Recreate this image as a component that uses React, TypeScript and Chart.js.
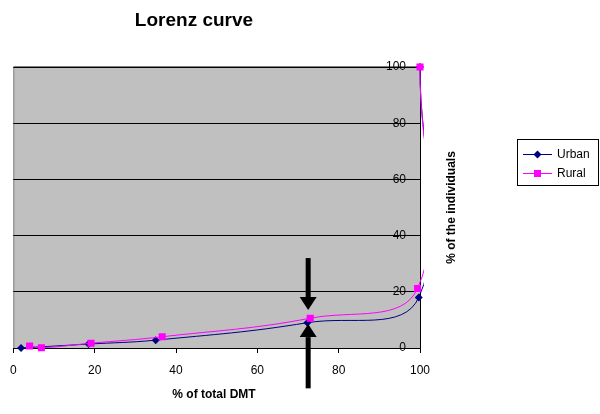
import React, { useEffect, useRef } from "react";
import { Chart, registerables } from "chart.js";

Chart.register(...registerables);

// ---- data ----
const seriesNames = ["Urban", "Rural"];
const urbanX = [1.9, 18.5, 35, 72.3, 99.7, 100];
const urbanY = [0, 1.4, 2.8, 9, 18, 100];
const ruralX = [4.0, 6.9, 19.1, 36.6, 73, 99.4, 100];
const ruralY = [0.7, 0.1, 1.7, 4.0, 10.6, 21.2, 100];
const xTicks = [0, 20, 40, 60, 80, 100];
const yTicks = [0, 20, 40, 60, 80, 100];
const titleText = "Lorenz curve";
const xTitle = "% of total DMT";
const yTitle = "% of the individuals";
// annotation arrows (data units)
const arrowX = 72.5;
const downArrow = [32, 13.5];
const upArrow = [8.5, -14];

const FONT = "'Liberation Sans', Arial, Helvetica, sans-serif";
const URBAN = "#000080";
const RURAL = "#FF00FF";

function drawArrow(ctx: CanvasRenderingContext2D, x: number, y0: number, y1: number) {
  const dir = y1 > y0 ? 1 : -1;
  const headLen = 13;
  const headHalf = 8.5;
  const shaftHalf = 2.5;
  const baseY = y1 - dir * headLen;
  ctx.fillStyle = "#000";
  ctx.fillRect(x - shaftHalf, Math.min(y0, baseY), shaftHalf * 2, Math.abs(baseY - y0) + 1);
  ctx.beginPath();
  ctx.moveTo(x - headHalf, baseY);
  ctx.lineTo(x + headHalf, baseY);
  ctx.lineTo(x, y1);
  ctx.closePath();
  ctx.fill();
}

const decor = {
  id: "decor",
  beforeDraw(chart: any) {
    const { ctx, chartArea: a } = chart;
    ctx.save();
    ctx.fillStyle = "#fff";
    ctx.fillRect(0, 0, chart.width, chart.height);
    ctx.fillStyle = "#C0C0C0";
    ctx.fillRect(a.left, a.top, a.right - a.left, a.bottom - a.top);
    ctx.strokeStyle = "#808080";
    ctx.lineWidth = 1;
    ctx.beginPath();
    ctx.moveTo(a.left + 0.5, a.bottom);
    ctx.lineTo(a.left + 0.5, a.top - 0.5);
    ctx.lineTo(a.right, a.top - 0.5);
    ctx.stroke();
    ctx.restore();
  },
  afterDraw(chart: any) {
    const { ctx, chartArea: a } = chart;
    const xs = chart.scales.x;
    const ys = chart.scales.y;
    ctx.save();
    // arrows
    const ax = xs.getPixelForValue(arrowX);
    drawArrow(ctx, ax, ys.getPixelForValue(downArrow[0]), ys.getPixelForValue(downArrow[1]));
    drawArrow(ctx, ax, ys.getPixelForValue(upArrow[1]), ys.getPixelForValue(upArrow[0]));

    // title
    ctx.fillStyle = "#000";
    ctx.textAlign = "center";
    ctx.textBaseline = "middle";
    ctx.font = `bold 19px ${FONT}`;
    ctx.fillText(titleText, 194, 21);
    // x title
    ctx.font = `bold 12px ${FONT}`;
    ctx.fillText(xTitle, 214, 395);
    // y title
    ctx.save();
    ctx.translate(452, (a.top + a.bottom) / 2);
    ctx.rotate(-Math.PI / 2);
    ctx.fillText(yTitle, 0, 0);
    ctx.restore();

    // legend
    const lx = 517, ly = 139, lw = 81, lh = 46;
    ctx.strokeStyle = "#000";
    ctx.lineWidth = 1;
    ctx.strokeRect(lx + 0.5, ly + 0.5, lw, lh);
    const rows = [
      { name: seriesNames[0], color: URBAN, y: 154, shape: "diamond" },
      { name: seriesNames[1], color: RURAL, y: 173, shape: "square" },
    ];
    ctx.font = `12px ${FONT}`;
    ctx.textAlign = "left";
    for (const r of rows) {
      ctx.strokeStyle = r.color;
      ctx.beginPath();
      ctx.moveTo(523, r.y + 0.5);
      ctx.lineTo(552, r.y + 0.5);
      ctx.stroke();
      ctx.fillStyle = r.color;
      const cx = 537.5, cy = r.y + 0.5;
      if (r.shape === "diamond") {
        ctx.beginPath();
        ctx.moveTo(cx, cy - 4);
        ctx.lineTo(cx + 4, cy);
        ctx.lineTo(cx, cy + 4);
        ctx.lineTo(cx - 4, cy);
        ctx.closePath();
        ctx.fill();
      } else {
        ctx.fillRect(cx - 3.5, cy - 3.5, 7, 7);
      }
      ctx.fillStyle = "#000";
      ctx.fillText(r.name, 557, r.y + 1);
    }
    ctx.restore();
  },
};

export default function App() {
  const ref = useRef<HTMLCanvasElement | null>(null);
  useEffect(() => {
    if (!ref.current) return;
    const clipBox = { left: 6, top: 6, right: 4, bottom: 6 };
    const chart = new Chart(ref.current, {
      type: "scatter",
      data: {
        datasets: [
          {
            label: seriesNames[1],
            data: ruralX.map((x, i) => ({ x, y: ruralY[i] })),
            showLine: true,
            borderColor: RURAL,
            backgroundColor: RURAL,
            borderWidth: 1,
            tension: 0.4,
            pointStyle: "rect",
            pointRadius: 5,
            pointBorderWidth: 0,
            clip: clipBox,
            order: 0,
          },
          {
            label: seriesNames[0],
            data: urbanX.map((x, i) => ({ x, y: urbanY[i] })),
            showLine: true,
            borderColor: URBAN,
            backgroundColor: URBAN,
            borderWidth: 1,
            tension: 0.4,
            pointStyle: "rectRot",
            pointRadius: 4,
            pointBorderWidth: 0,
            clip: clipBox,
            order: 1,
          },
        ],
      },
      options: {
        responsive: false,
        animation: false,
        elements: { line: { capBezierPoints: false } },
        layout: { padding: { left: 13, top: 67, right: 0, bottom: 0 } },
        plugins: {
          legend: { display: false },
          title: { display: false },
          tooltip: { enabled: false },
        },
        scales: {
          x: {
            type: "linear",
            position: "bottom",
            min: 0,
            max: 100,
            afterBuildTicks: (s: any) => {
              s.ticks = xTicks.map((v) => ({ value: v }));
            },
            afterFit: (s: any) => {
              s.height = 66;
            },
            grid: { drawOnChartArea: false, drawTicks: true, tickLength: 5, color: "#000" },
            border: { color: "#000", width: 1 },
            ticks: { color: "#000", font: { family: FONT, size: 12 }, padding: 10, maxRotation: 0 },
          },
          y: {
            type: "linear",
            position: "right",
            min: 0,
            max: 100,
            afterBuildTicks: (s: any) => {
              s.ticks = yTicks.map((v) => ({ value: v }));
            },
            afterFit: (s: any) => {
              s.width = 180;
            },
            grid: { drawTicks: false, tickLength: 0, color: "#000" },
            border: { color: "#000", width: 1 },
            ticks: { mirror: true, color: "#000", font: { family: FONT, size: 12 }, padding: -14 },
          },
        },
      },
      plugins: [decor],
    } as any);
    return () => chart.destroy();
  }, []);
  return (
    <div style={{ position: "fixed", left: 0, top: 0, width: 600, height: 414 }}>
      <canvas ref={ref} width={600} height={414} style={{ width: 600, height: 414, display: "block" }} />
    </div>
  );
}
